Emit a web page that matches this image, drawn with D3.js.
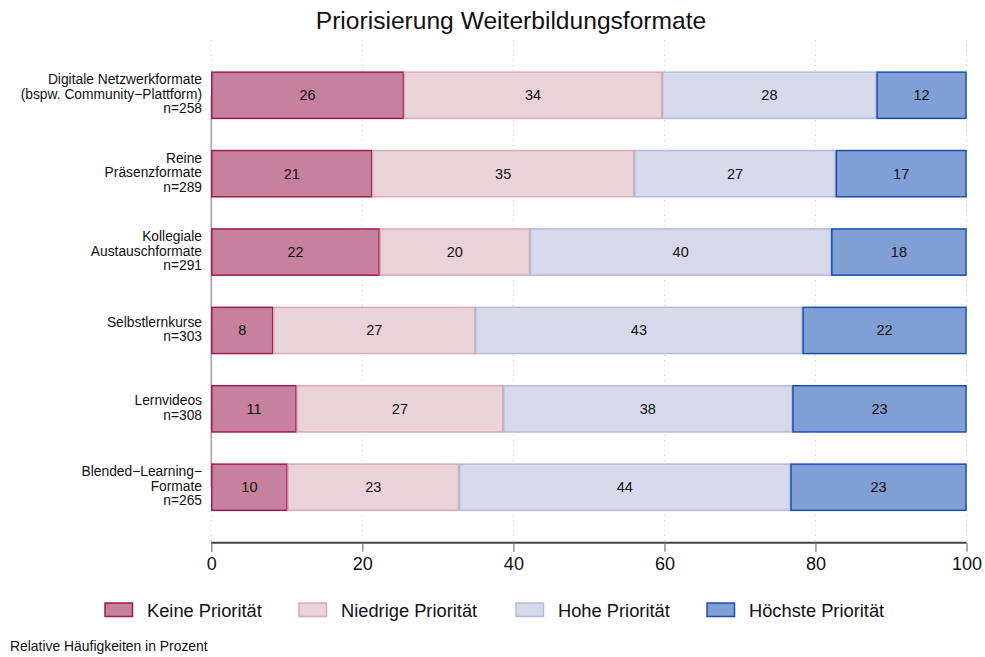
<!DOCTYPE html>
<html>
<head>
<meta charset="utf-8">
<script src="https://cdn.jsdelivr.net/npm/d3@7"></script>
<style>
  body { margin: 0; background: #fff; }
  svg { font-family: "Liberation Sans", Arial, Helvetica, sans-serif; }
</style>
</head>
<body>
<div id="chart"></div>
<script>
// categories (top to bottom), one line per entry
var categories = [
  ["Digitale Netzwerkformate", "(bspw. Community\u2212Plattform)", "n=258"],
  ["Reine", "Präsenzformate", "n=289"],
  ["Kollegiale", "Austauschformate", "n=291"],
  ["Selbstlernkurse", "n=303"],
  ["Lernvideos", "n=308"],
  ["Blended\u2212Learning\u2212", "Formate", "n=265"]
];
var seriesNames = ["Keine Priorität", "Niedrige Priorität", "Hohe Priorität", "Höchste Priorität"];
// percentages per category, in series order
var keine    = [25.5, 21.3, 22.3, 8.2, 11.3, 10.1];
var niedrige = [34.2, 34.7, 19.9, 26.75, 27.35, 22.7];
var hohe     = [28.4, 26.7, 39.9, 43.35, 38.3, 43.9];
var hoechste = [11.9, 17.3, 17.9, 21.7, 23.05, 23.3];
var xTicks = [0, 20, 40, 60, 80, 100];

var fills   = ["#c6829c", "#ead3d8", "#d6d9ea", "#7f9fd5"];
var strokes = ["#a11a52", "#d9a9b4", "#b2bad9", "#1b4fae"];

var width = 985, height = 657;
var svg = d3.select("#chart").append("svg")
  .attr("width", width).attr("height", height);

var x = d3.scaleLinear().domain([0, 100]).range([211.3, 966.5]);
var y = d3.scaleBand().domain(d3.range(categories.length))
  .range([40, 542.5]).paddingInner(0.41).paddingOuter(0.41);

// build stacked rows
var rows = categories.map(function (c, i) {
  return { i: i, k: keine[i], n: niedrige[i], h: hohe[i], x: hoechste[i] };
});
var stack = d3.stack().keys(["k", "n", "h", "x"]);
var layers = stack(rows);

// grid
svg.append("g").selectAll("line").data(xTicks).enter().append("line")
  .attr("x1", d => x(d)).attr("x2", d => x(d))
  .attr("y1", 40).attr("y2", 542.5)
  .attr("stroke", "#c8c8c8").attr("stroke-width", 1)
  .attr("stroke-dasharray", "1,4");

// y axis line (from first to last category center)
svg.append("line")
  .attr("x1", x(0)).attr("x2", x(0))
  .attr("y1", y(0) + y.bandwidth() / 2)
  .attr("y2", y(categories.length - 1) + y.bandwidth() / 2)
  .attr("stroke", "#a0a0a0").attr("stroke-width", 1.5);

// bars
var g = svg.append("g").selectAll("g").data(layers).enter().append("g");
g.selectAll("rect").data((d, li) => d.map(p => ({ p: p, li: li }))).enter().append("rect")
  .attr("x", d => x(d.p[0]) + 0.5)
  .attr("width", d => x(d.p[1]) - x(d.p[0]) - 1)
  .attr("y", d => y(d.p.data.i))
  .attr("height", y.bandwidth())
  .attr("fill", d => fills[d.li])
  .attr("stroke", d => strokes[d.li])
  .attr("stroke-width", 1.5);

g.selectAll("text").data(d => d).enter().append("text")
  .attr("x", d => x((d[0] + d[1]) / 2))
  .attr("y", d => y(d.data.i) + y.bandwidth() / 2 + 5)
  .attr("text-anchor", "middle")
  .attr("font-size", "14.5px")
  .attr("fill", "#111")
  .text(d => Math.round(d[1] - d[0]));

// category labels
var lh = 14.5;
svg.append("g").selectAll("text").data(categories).enter().append("text")
  .attr("text-anchor", "end")
  .attr("font-size", "13.8px")
  .attr("fill", "#111")
  .each(function (d, i) {
    var cy = y(i) + y.bandwidth() / 2 - 1;
    var top = cy - (d.length - 1) * lh / 2 + 4.5;
    d3.select(this).selectAll("tspan").data(d).enter().append("tspan")
      .attr("x", 202).attr("y", (t, j) => top + j * lh).text(t => t);
  });

// x axis
var xAxis = svg.append("g").attr("transform", "translate(0,542.7)")
  .call(d3.axisBottom(x).tickValues(xTicks).tickSize(9).tickPadding(6).tickFormat(d3.format("d")));
xAxis.select(".domain").attr("stroke", "#444").attr("stroke-width", 2)
  .attr("d", "M" + x(0) + ",0H" + x(100));
xAxis.selectAll(".tick line").attr("stroke", "#777").attr("stroke-width", 1.2);
xAxis.selectAll(".tick text").attr("font-size", "18px").attr("fill", "#111")
  .attr("font-family", "'Liberation Sans', Arial, sans-serif");

// title
svg.append("text").attr("x", 511).attr("y", 29).attr("text-anchor", "middle")
  .attr("font-size", "24.6px").attr("fill", "#111")
  .text("Priorisierung Weiterbildungsformate");

// legend
var legendX = [105, 299, 516, 707];
var leg = svg.append("g").selectAll("g").data(seriesNames).enter().append("g")
  .attr("transform", (d, i) => "translate(" + legendX[i] + ",603)");
leg.append("rect").attr("width", 27.5).attr("height", 13.5)
  .attr("fill", (d, i) => fills[i]).attr("stroke", (d, i) => strokes[i]).attr("stroke-width", 1.5);
leg.append("text").attr("x", 42).attr("y", 13.5).attr("font-size", "18.3px").attr("fill", "#111")
  .text(d => d);

// footnote
svg.append("text").attr("x", 10).attr("y", 651).attr("font-size", "13.9px").attr("fill", "#111")
  .text("Relative Häufigkeiten in Prozent");
</script>
</body>
</html>
